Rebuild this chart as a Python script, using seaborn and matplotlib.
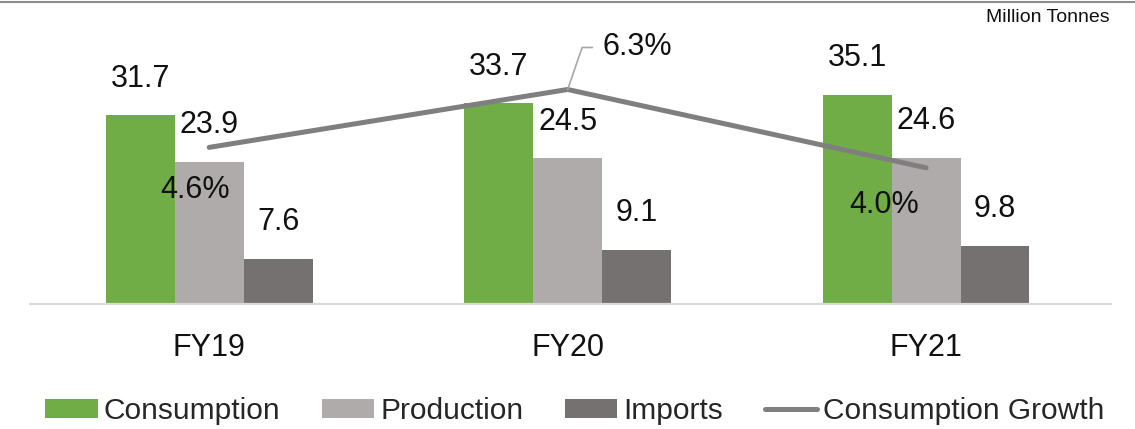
import numpy as np
import pandas as pd
import matplotlib
matplotlib.use("Agg")
import matplotlib.pyplot as plt
from matplotlib.lines import Line2D
import seaborn as sns

# --- data ---
years = ["FY19", "FY20", "FY21"]
consumption = [31.7, 33.7, 35.1]
production = [23.9, 24.5, 24.6]
imports = [7.6, 9.1, 9.8]
growth = [4.6, 6.3, 4.0]
series = ["Consumption", "Production", "Imports"]
colors = ["#70AD47", "#AFABAB", "#767171"]
line_color = "#7F7F7F"

df = pd.DataFrame({
    "year": years * 3,
    "value": consumption + production + imports,
    "series": [s for s in series for _ in years],
})

sns.set_style("white")
plt.rcParams["font.family"] = ["Liberation Sans", "DejaVu Sans"]

fig = plt.figure(figsize=(11.35, 4.29), dpi=100)
ax = fig.add_axes([30 / 1135, 125 / 429, 1080.7 / 1135, 284 / 429])

sns.barplot(data=df, x="year", y="value", hue="series", palette=colors,
            width=0.5767, gap=0, linewidth=0, saturation=1, ax=ax)
handles, labels = ax.get_legend_handles_labels()
ax.get_legend().remove()

for cont in ax.containers:
    ax.bar_label(cont, fmt="%.1f", padding=15.5, fontsize=22, color="#111111")

ax.set_xlim(-0.5, 2.515)
ax.set_ylim(0, 47.7)
ax.set_xlabel("")
ax.set_ylabel("")
ax.set_yticks([])
ax.tick_params(axis="x", length=0, pad=21, labelsize=22, labelcolor="#111111")
for side in ["top", "left", "right"]:
    ax.spines[side].set_visible(False)
ax.spines["bottom"].set_color("#D9D9D9")
ax.spines["bottom"].set_linewidth(1.6)

# growth line on secondary axis
ax2 = ax.twinx()
sns.lineplot(x=np.arange(len(years)), y=growth, color=line_color, linewidth=3.6,
             solid_capstyle="round", label="Consumption Growth", ax=ax2)
ax2.set_ylim(0, 284 / 34.05)
ax2.set_yticks([])
ax2.set_ylabel("")
for side in ["top", "left", "right", "bottom"]:
    ax2.spines[side].set_visible(False)
h2, l2 = ax2.get_legend_handles_labels()
ax2.get_legend().remove()

offsets = [(-14, -51), (35, 34), (-42, -45)]
aligns = ["center", "left", "center"]
for i, g in enumerate(growth):
    kw = {}
    if i == 1:
        kw["arrowprops"] = dict(arrowstyle="-", color="#A6A6A6", lw=1.2,
                                connectionstyle="angle,angleA=0,angleB=71",
                                relpos=(0, 0.5), shrinkA=5, shrinkB=0)
    ax2.annotate(f"{g:.1f}%", xy=(i, g), xytext=offsets[i],
                 textcoords="offset pixels", ha=aligns[i], va="baseline",
                 fontsize=22, color="#111111", **kw)

fig.legend(handles + h2, labels + l2, loc="center",
           bbox_to_anchor=(575 / 1135, 1 - 411 / 429), ncol=4, frameon=False,
           fontsize=21.5, handlelength=1.75, handletextpad=0.2,
           columnspacing=1.4, handleheight=0.6)

fig.text(1110 / 1135, 1 - 18 / 429, "Million Tonnes", ha="right", va="center",
         fontsize=14, color="#111111")
fig.add_artist(Line2D([0, 1], [1 - 2 / 429, 1 - 2 / 429], color="#8C8C8C",
                      lw=1.5, transform=fig.transFigure))

fig.savefig("out.png", dpi=100)
